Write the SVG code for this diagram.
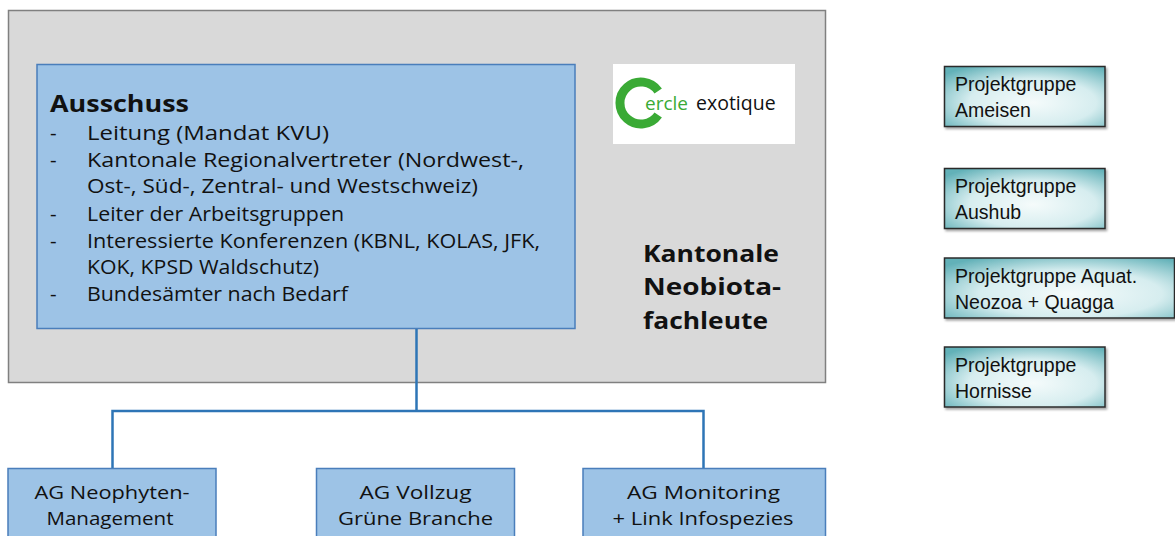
<svg xmlns="http://www.w3.org/2000/svg" width="1175" height="536" viewBox="0 0 1175 536">
  <style>
    .cal { font-family: "Open Sans", "Noto Sans", "Liberation Sans", sans-serif; fill: #111; }
    .b19 { font-size: 20.5px; }
    .bold { font-weight: bold; }
    .ag { font-size: 19px; text-anchor: middle; }
    .pg { font-family: "Liberation Sans", Arial, sans-serif; font-size: 19.5px; fill: #111; }
    .bluebox { fill: #9dc3e6; stroke: #4a7ebb; stroke-width: 1.5; }
    .pgbox { fill: url(#teal); stroke: #2b2b2b; stroke-width: 1.5; filter: url(#sh); }
    .conn { fill: none; stroke: #2e75b6; stroke-width: 2.5; }
  </style>
  <defs>
    <radialGradient id="teal" cx="0.55" cy="0.6" r="0.72">
      <stop offset="0" stop-color="#f5fbfb"/>
      <stop offset="0.55" stop-color="#d6edef"/>
      <stop offset="1" stop-color="#62b1b8"/>
    </radialGradient>
    <filter id="sh" x="-10%" y="-10%" width="125%" height="130%">
      <feDropShadow dx="1.5" dy="2" stdDeviation="1.2" flood-color="#000" flood-opacity="0.35"/>
    </filter>
  </defs>

  <rect width="1175" height="536" fill="#ffffff"/>

  <g id="kantonale">
    <rect x="8.5" y="10.5" width="817" height="372" fill="#d9d9d9" stroke="#808080" stroke-width="1.5"/>
    <text class="cal bold" font-size="23" x="643" y="262" textLength="136" lengthAdjust="spacingAndGlyphs">Kantonale</text>
    <text class="cal bold" font-size="23" x="643" y="295" textLength="138" lengthAdjust="spacingAndGlyphs">Neobiota-</text>
    <text class="cal bold" font-size="23" x="643" y="329" textLength="125" lengthAdjust="spacingAndGlyphs">fachleute</text>
  </g>

  <g id="logo">
    <rect x="613" y="64" width="182" height="80" fill="#ffffff"/>
    <path d="M658.2 91 A21 21 0 1 0 658.2 115" fill="none" stroke="#3aaa35" stroke-width="9"/>
    <text class="cal" font-size="19" x="645" y="110" style="fill:#3aaa35">ercle</text>
    <text class="cal" font-size="19.5" x="696" y="110">exotique</text>
  </g>

  <g id="ausschuss">
    <rect class="bluebox" x="37" y="64.5" width="538" height="264"/>
    <text class="cal bold" font-size="24" x="50" y="112" textLength="139" lengthAdjust="spacingAndGlyphs">Ausschuss</text>
    <g class="cal b19">
      <text x="50" y="140">-</text>
      <text x="87" y="140" textLength="242" lengthAdjust="spacingAndGlyphs">Leitung (Mandat KVU)</text>
      <text x="50" y="167">-</text>
      <text x="87" y="167" textLength="437" lengthAdjust="spacingAndGlyphs">Kantonale Regionalvertreter (Nordwest-,</text>
      <text x="87" y="193" textLength="391" lengthAdjust="spacingAndGlyphs">Ost-, Süd-, Zentral- und Westschweiz)</text>
      <text x="50" y="221">-</text>
      <text x="87" y="221" textLength="257" lengthAdjust="spacingAndGlyphs">Leiter der Arbeitsgruppen</text>
      <text x="50" y="248">-</text>
      <text x="87" y="248" textLength="453" lengthAdjust="spacingAndGlyphs">Interessierte Konferenzen (KBNL, KOLAS, JFK,</text>
      <text x="87" y="274" textLength="232" lengthAdjust="spacingAndGlyphs">KOK, KPSD Waldschutz)</text>
      <text x="50" y="301">-</text>
      <text x="87" y="301" textLength="261" lengthAdjust="spacingAndGlyphs">Bundesämter nach Bedarf</text>
    </g>
  </g>

  <g id="connectors">
    <path class="conn" d="M416.5 329 V411 M112.5 468 V411 H703.5 V468"/>
  </g>

  <g id="ag-neophyten">
    <rect class="bluebox" x="8" y="468.5" width="208" height="80"/>
    <text class="cal ag" x="112" y="499" textLength="155" lengthAdjust="spacingAndGlyphs">AG Neophyten-</text>
    <text class="cal ag" x="110" y="525" textLength="127" lengthAdjust="spacingAndGlyphs">Management</text>
  </g>

  <g id="ag-vollzug">
    <rect class="bluebox" x="316.5" y="468.5" width="198" height="80"/>
    <text class="cal ag" x="415.5" y="499" textLength="112" lengthAdjust="spacingAndGlyphs">AG Vollzug</text>
    <text class="cal ag" x="415.5" y="525" textLength="155" lengthAdjust="spacingAndGlyphs">Grüne Branche</text>
  </g>

  <g id="ag-monitoring">
    <rect class="bluebox" x="583" y="468.5" width="242.5" height="80"/>
    <text class="cal ag" x="703.5" y="499" textLength="153" lengthAdjust="spacingAndGlyphs">AG Monitoring</text>
    <text class="cal ag" x="703" y="525" textLength="181" lengthAdjust="spacingAndGlyphs">+ Link Infospezies</text>
  </g>

  <g id="pg-ameisen">
    <rect class="pgbox" x="944.5" y="66.5" width="160.5" height="60"/>
    <text class="pg" x="955" y="91">Projektgruppe</text>
    <text class="pg" x="955" y="117">Ameisen</text>
  </g>

  <g id="pg-aushub">
    <rect class="pgbox" x="944.5" y="168.5" width="160.5" height="60"/>
    <text class="pg" x="955" y="193">Projektgruppe</text>
    <text class="pg" x="955" y="219">Aushub</text>
  </g>

  <g id="pg-aquat">
    <rect class="pgbox" x="944.5" y="258" width="230" height="60"/>
    <text class="pg" x="955" y="283">Projektgruppe Aquat.</text>
    <text class="pg" x="955" y="309">Neozoa + Quagga</text>
  </g>

  <g id="pg-hornisse">
    <rect class="pgbox" x="944.5" y="347" width="160.5" height="60"/>
    <text class="pg" x="955" y="372">Projektgruppe</text>
    <text class="pg" x="955" y="398">Hornisse</text>
  </g>
</svg>
